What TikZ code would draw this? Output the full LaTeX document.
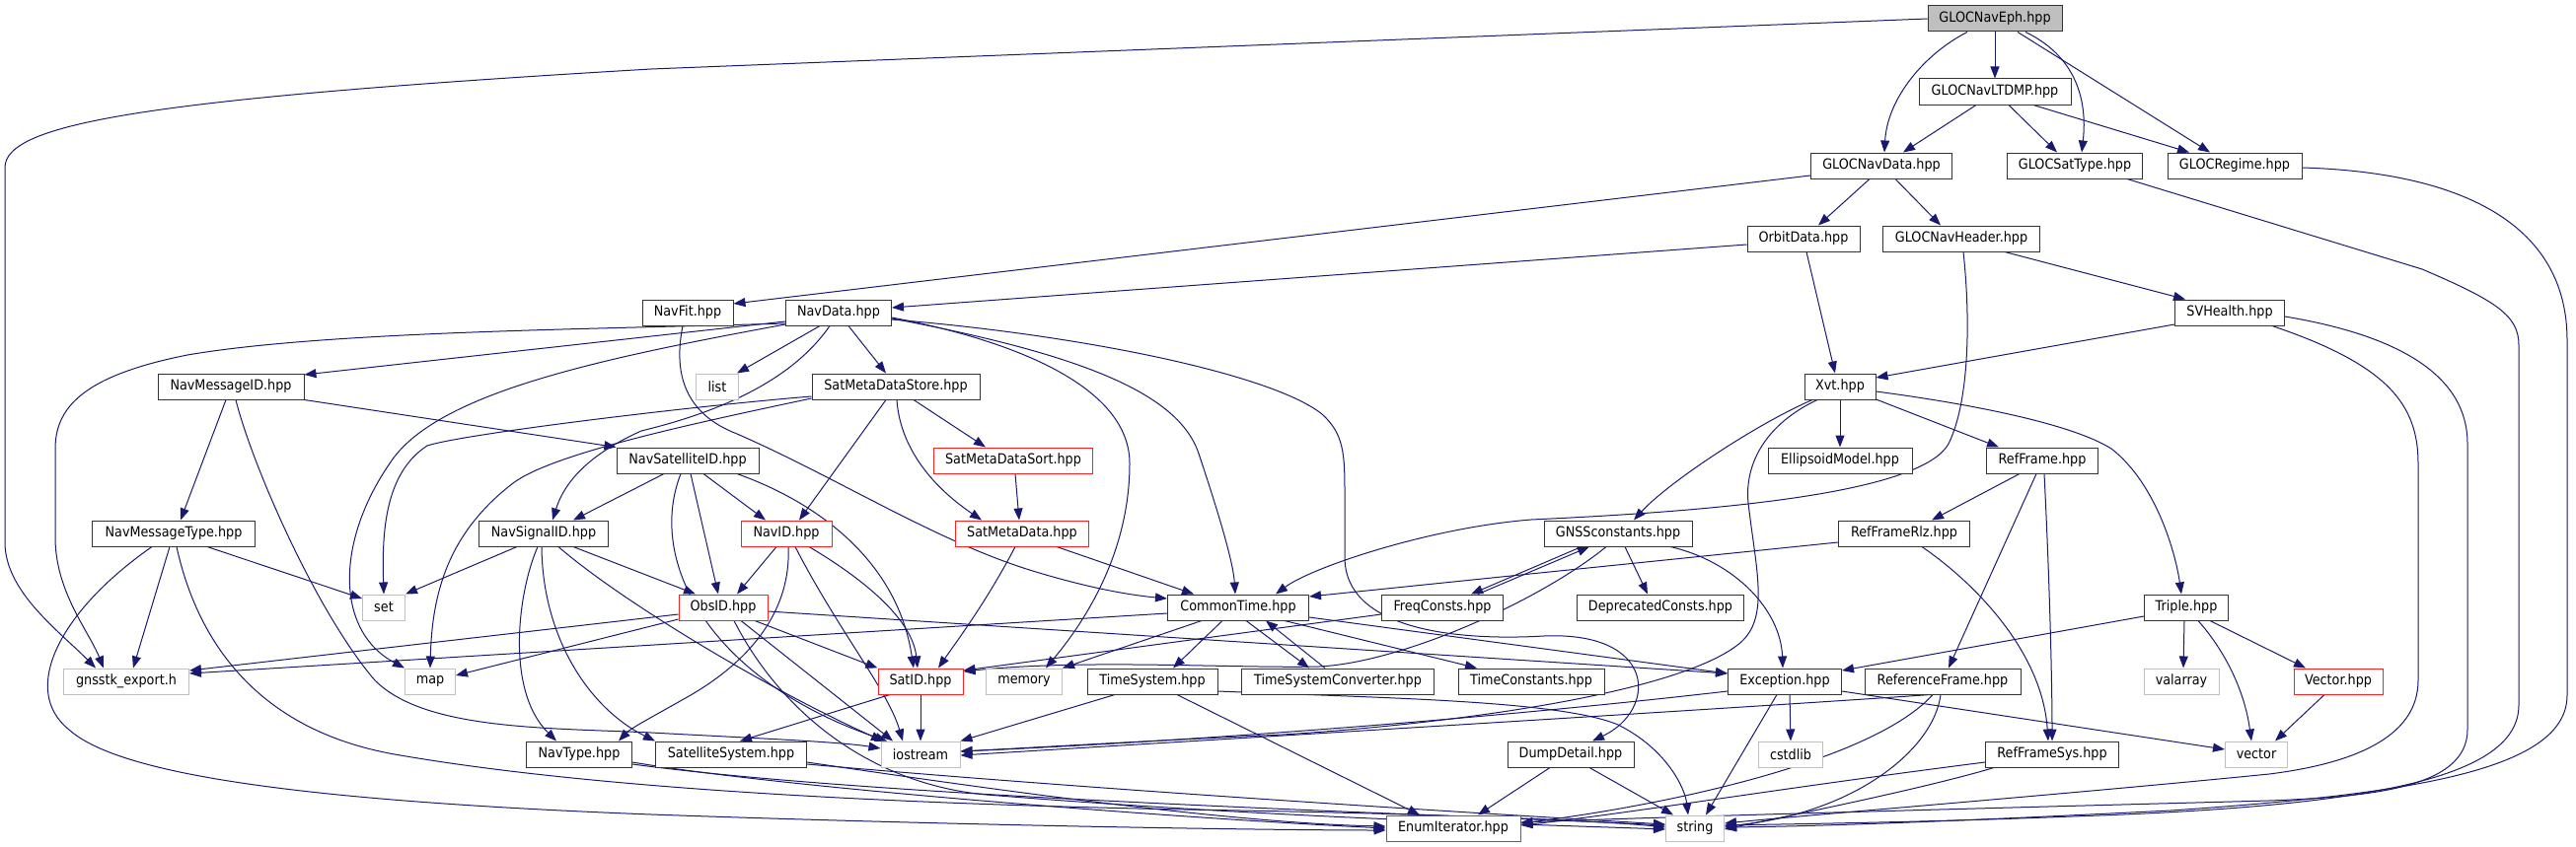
\documentclass[tikz,border=0pt]{standalone}
\usepackage{fontspec}
\setmainfont{DejaVu Sans}[FakeStretch=0.9]
\usetikzlibrary{arrows.meta}
\definecolor{edgecol}{HTML}{191970}
\definecolor{extgray}{HTML}{BFBFBF}
\definecolor{truncred}{HTML}{FF2020}
\definecolor{rootfill}{HTML}{BFBFBF}
\newcommand\nodefont{\fontsize{14.2}{16}\selectfont}
\pgfdeclarelayer{back}
\pgfdeclarelayer{bg}
\pgfsetlayers{back,bg,main}
\tikzset{
  nd/.style={draw=black!80, fill=white, line width=1pt, minimum height=26pt, inner sep=0pt, font=\nodefont, text=black},
  ext/.style={nd, draw=extgray},
  trunc/.style={nd, draw=truncred},
  root/.style={nd, fill=rootfill},
  edge/.style={draw=edgecol, line width=1pt, -{Triangle[length=12pt,width=9pt]}},
}
\begin{document}
\begin{tikzpicture}[x=1pt,y=-1pt]
\begin{pgfonlayer}{back}
\fill[white] (0,0) rectangle (2611,859);
\end{pgfonlayer}
\useasboundingbox (0,0) rectangle (2611,859);
% nodes
\node[root, minimum width=136pt] (eph) at (2022,19) {GLOCNavEph.hpp};
\node[nd, minimum width=154pt] (ltdmp) at (2022,93) {GLOCNavLTDMP.hpp};
\node[nd, minimum width=137pt] (satt) at (2103,168) {GLOCSatType.hpp};
\node[nd, minimum width=136pt] (reg) at (2265,168) {GLOCRegime.hpp};
\node[nd, minimum width=143pt] (gnd) at (1907,168) {GLOCNavData.hpp};
\node[nd, minimum width=114pt] (orb) at (1828,242) {OrbitData.hpp};
\node[nd, minimum width=159pt] (gnh) at (1988,242) {GLOCNavHeader.hpp};
\node[nd, minimum width=111pt] (svh) at (2260,317) {SVHealth.hpp};
\node[nd, minimum width=72pt] (xvt) at (1865,392) {Xvt.hpp};
\node[nd, minimum width=92pt] (navfit) at (697,317) {NavFit.hpp};
\node[nd, minimum width=107pt] (navdata) at (850,317) {NavData.hpp};
\node[ext, minimum width=43pt] (list) at (727,392) {list};
\node[nd, minimum width=170pt] (smds) at (908,392) {SatMetaDataStore.hpp};
\node[nd, minimum width=148pt] (nmid) at (234,392) {NavMessageID.hpp};
\node[nd, minimum width=165pt] (nmt) at (176,541) {NavMessageType.hpp};
\node[ext, minimum width=43pt] (set) at (389,616) {set};
\node[ext, minimum width=127pt] (gexp) at (128,691) {gnsstk\_export.h};
\node[ext, minimum width=51pt] (map) at (436,691) {map};
\node[nd, minimum width=131pt] (nsig) at (551,541) {NavSignalID.hpp};
\node[nd, minimum width=107pt] (navtype) at (587,765) {NavType.hpp};
\node[nd, minimum width=144pt] (nsat) at (697,467) {NavSatelliteID.hpp};
\node[trunc, minimum width=161pt] (smdsort) at (1027,467) {SatMetaDataSort.hpp};
\node[trunc, minimum width=92pt] (navid) at (797,541) {NavID.hpp};
\node[trunc, minimum width=135pt] (smd) at (1036,541) {SatMetaData.hpp};
\node[trunc, minimum width=90pt] (obsid) at (733,616) {ObsID.hpp};
\node[nd, minimum width=143pt] (ct) at (1255,616) {CommonTime.hpp};
\node[trunc, minimum width=86pt] (satid) at (933,691) {SatID.hpp};
\node[ext, minimum width=77pt] (memory) at (1038,691) {memory};
\node[nd, minimum width=132pt] (ts) at (1168,691) {TimeSystem.hpp};
\node[nd, minimum width=195pt] (tsc) at (1356,691) {TimeSystemConverter.hpp};
\node[nd, minimum width=153pt] (ss) at (741,765) {SatelliteSystem.hpp};
\node[ext, minimum width=80pt] (iostream) at (933,765) {iostream};
\node[nd, minimum width=146pt] (ell) at (1865,467) {EllipsoidModel.hpp};
\node[nd, minimum width=150pt] (gnss) at (1640,541) {GNSSconstants.hpp};
\node[nd, minimum width=133pt] (rfrlz) at (1930,541) {RefFrameRlz.hpp};
\node[nd, minimum width=123pt] (freq) at (1462,616) {FreqConsts.hpp};
\node[nd, minimum width=169pt] (depr) at (1683,616) {DeprecatedConsts.hpp};
\node[nd, minimum width=148pt] (tconst) at (1552,691) {TimeConstants.hpp};
\node[nd, minimum width=115pt] (exc) at (1809,691) {Exception.hpp};
\node[nd, minimum width=158pt] (refframe) at (1969,691) {ReferenceFrame.hpp};
\node[nd, minimum width=128pt] (dump) at (1592,765) {DumpDetail.hpp};
\node[ext, minimum width=65pt] (cstdlib) at (1815,765) {cstdlib};
\node[trunc, minimum width=136pt] (enumit) at (1473,840) {EnumIterator.hpp};
\node[ext, minimum width=59pt] (string) at (1718,840) {string};
\node[nd, minimum width=113pt] (rf) at (2070,467) {RefFrame.hpp};
\node[nd, minimum width=85pt] (triple) at (2216,616) {Triple.hpp};
\node[ext, minimum width=76pt] (valarray) at (2211,691) {valarray};
\node[trunc, minimum width=90pt] (vectorh) at (2370,691) {Vector.hpp};
\node[ext, minimum width=63pt] (vector) at (2287,765) {vector};
\node[nd, minimum width=135pt] (rfsys) at (2080,765) {RefFrameSys.hpp};

\begin{pgfonlayer}{bg}
% GLOCNavEph
\draw[edge] (eph.west) -- (660,70) .. controls (150,100) and (5,125) .. (5,170) -- (5,550) .. controls (5,600) and (60,640) .. ([xshift=-31pt]gexp.north);
\draw[edge] ([xshift=-28pt]eph.south) .. controls (1950,55) and (1913,100) .. ([xshift=3pt]gnd.north);
\draw[edge] (eph) -- (ltdmp);
\draw[edge] ([xshift=31pt]eph.south) .. controls (2110,60) and (2115,110) .. ([xshift=7pt]satt.north);
\draw[edge] ([xshift=23pt]eph.south) -- ([xshift=-25pt]reg.north);
% GLOCNavLTDMP
\draw[edge] ([xshift=-19pt]ltdmp.south) -- ([xshift=22pt]gnd.north);
\draw[edge] ([xshift=14pt]ltdmp.south) -- ([xshift=-18pt]satt.north);
\draw[edge] ([xshift=39pt]ltdmp.south) -- ([xshift=-46pt]reg.north);
% GLOCNavData
\draw[edge] ([yshift=-10pt]gnd.west) -- ([yshift=9pt]navfit.east);
\draw[edge] ([xshift=-12pt]gnd.south) -- ([xshift=15pt]orb.north);
\draw[edge] ([xshift=14pt]gnd.south) -- ([xshift=-21pt]gnh.north);
% GLOCSatType, GLOCRegime
\draw[edge] ([xshift=53pt]satt.south) -- (2455,273) .. controls (2530,305) and (2553,320) .. (2553,350) -- (2553,715) .. controls (2553,790) and (2400,818) .. (2100,828) .. controls (1950,834) and (1800,836) .. ([yshift=3pt]string.east);
\draw[edge] ([yshift=-2pt]reg.east) .. controls (2500,175) and (2602,230) .. (2602,345) -- (2602,705) .. controls (2602,780) and (2450,805) .. (2200,822) .. controls (2000,832) and (1850,838) .. ([yshift=1pt]string.east);
% OrbitData
\draw[edge] ([yshift=-6pt]orb.west) -- ([yshift=5pt]navdata.east);
\draw[edge] ([xshift=3pt]orb.south) -- ([xshift=-5pt]xvt.north);
% GLOCNavHeader
\draw[edge] ([xshift=44pt]gnh.south) -- ([xshift=-45pt]svh.north);
\draw[edge] ([xshift=2pt]gnh.south) .. controls (1998,330) and (1995,410) .. (1975,450) .. controls (1945,505) and (1700,520) .. (1552,527) .. controls (1450,535) and (1330,575) .. ([xshift=38pt]ct.north);
% SVHealth
\draw[edge] ([yshift=-12pt]svh.west) -- ([yshift=9pt]xvt.east);
\draw[edge] ([xshift=43pt]svh.south) .. controls (2420,370) and (2451,410) .. (2451,470) -- (2451,690) .. controls (2451,750) and (2380,775) .. (2300,785) .. controls (2100,805) and (1850,825) .. ([yshift=5pt]string.east);
\draw[edge] ([yshift=-4pt]svh.east) .. controls (2430,340) and (2501,380) .. (2501,450) -- (2501,740) .. controls (2501,800) and (2400,808) .. (2300,812) .. controls (2000,820) and (1700,828) .. ([yshift=6pt]enumit.east);
% Xvt
\draw[edge] ([xshift=-28pt]xvt.south) .. controls (1780,430) and (1690,490) .. ([xshift=16pt]gnss.north);
\draw[edge] ([xshift=-23pt]xvt.south) .. controls (1790,430) and (1768,470) .. (1772,510) .. controls (1780,580) and (1795,630) .. (1760,655) .. controls (1700,700) and (1500,732) .. (1300,745) .. controls (1150,752) and (1050,758) .. ([yshift=3pt]iostream.east);
\draw[edge] (xvt) -- (ell);
\draw[edge] ([yshift=-13pt]xvt.east) -- ([xshift=-44pt]rf.north);
\draw[edge] ([yshift=-5pt]xvt.east) .. controls (2000,410) and (2100,430) .. (2140,455) .. controls (2185,490) and (2205,560) .. ([xshift=-5pt]triple.north);
% NavFit
\draw[edge] ([xshift=-5pt]navfit.south) .. controls (682,380) and (695,420) .. (747,440) .. controls (850,485) and (950,550) .. (1050,580) .. controls (1100,595) and (1140,603) .. ([yshift=9pt]ct.west);
% NavData
\draw[edge] ([yshift=-9pt]navdata.west) -- ([yshift=12pt]nmid.east);
\draw[edge] ([yshift=-11pt]navdata.west) .. controls (600,334) and (330,336) .. (190,360) .. controls (90,380) and (56,410) .. (56,455) -- (56,545) .. controls (56,600) and (90,640) .. ([xshift=-23pt]gexp.north);
\draw[edge] ([xshift=-19pt]navdata.south) -- ([xshift=20pt]list.north);
\draw[edge] ([xshift=10pt]navdata.south) -- ([xshift=-10pt]smds.north);
\draw[edge] ([xshift=-9pt]navdata.south) .. controls (800,390) and (720,420) .. (650,437) .. controls (610,455) and (575,480) .. ([xshift=9pt]nsig.north);
\draw[edge] ([yshift=-12pt]navdata.west) .. controls (600,365) and (440,400) .. (395,470) .. controls (340,550) and (340,640) .. (map.north west);
\draw[edge] ([yshift=-5pt]navdata.east) .. controls (1050,350) and (1145,400) .. (1145,470) .. controls (1145,560) and (1100,630) .. ([xshift=22pt]memory.north);
\draw[edge] ([yshift=-6pt]navdata.east) .. controls (1100,360) and (1195,400) .. (1215,460) .. controls (1235,520) and (1250,570) .. ([xshift=-3pt]ct.north);
\draw[edge] ([yshift=-7pt]navdata.east) .. controls (1100,340) and (1290,380) .. (1340,420) .. controls (1362,440) and (1363,460) .. (1363,500) -- (1363,565) .. controls (1363,640) and (1480,650) .. (1565,645) .. controls (1680,640) and (1680,720) .. ([xshift=22pt]dump.north);
% SatMetaDataStore
\draw[edge] ([yshift=-10pt]smds.west) .. controls (700,412) and (470,440) .. (433,452) .. controls (390,480) and (387,540) .. (set.north);
\draw[edge] ([yshift=-12pt]smds.west) .. controls (700,430) and (560,460) .. (520,490) .. controls (455,540) and (438,600) .. (map.north);
\draw[edge] ([xshift=-10pt]smds.south) -- ([xshift=13pt]navid.north);
\draw[edge] ([xshift=1pt]smds.south) .. controls (912,450) and (940,490) .. ([xshift=-41pt]smd.north);
\draw[edge] ([xshift=18pt]smds.south) -- ([xshift=-28pt]smdsort.north);
\draw[edge] ([xshift=2pt]smdsort.south) -- ([xshift=-3pt]smd.north);
% SatMetaData
\draw[edge] ([xshift=-7pt]smd.south) .. controls (1000,610) and (970,650) .. ([xshift=18pt]satid.north);
\draw[edge] ([xshift=35pt]smd.south) -- ([xshift=-45pt]ct.north);
% NavMessageID
\draw[edge] ([xshift=-5pt]nmid.south) -- ([xshift=7pt]nmt.north);
\draw[edge] ([xshift=5pt]nmid.south) .. controls (255,470) and (320,620) .. (380,690) .. controls (430,740) and (550,738) .. (660,743) .. controls (750,748) and (850,752) .. ([yshift=6pt]iostream.west);
\draw[edge] (nmid.south east) -- (nsat.north west);
% NavMessageType
\draw[edge] ([xshift=34pt]nmt.south) -- ([yshift=9pt]set.west);
\draw[edge] ([xshift=-4pt]nmt.south) -- ([xshift=7pt]gexp.north);
\draw[edge] ([xshift=-22pt]nmt.south) .. controls (60,620) and (20,700) .. (70,740) .. controls (120,785) and (300,812) .. (660,826) .. controls (1000,838) and (1300,842) .. ([yshift=-2pt]enumit.west);
\draw[edge] ([xshift=3pt]nmt.south) .. controls (200,650) and (260,740) .. (400,765) .. controls (600,800) and (900,815) .. (1200,821) .. controls (1450,825) and (1620,832) .. ([yshift=1pt]string.west);
% NavSignalID
\draw[edge] ([xshift=-27pt]nsig.south) -- (set.north east);
\draw[edge] ([xshift=-6pt]nsig.south) .. controls (525,600) and (512,700) .. ([xshift=-23pt]navtype.north);
\draw[edge] ([xshift=-2pt]nsig.south) .. controls (550,650) and (600,720) .. (ss.north west);
\draw[edge] ([xshift=30pt]nsig.south) -- ([xshift=-28pt]obsid.north);
\draw[edge] ([xshift=15pt]nsig.south) .. controls (630,610) and (780,700) .. ([xshift=-38pt]iostream.north);
% NavSatelliteID
\draw[edge] ([xshift=-24pt]nsat.south) -- ([xshift=30pt]nsig.north);
\draw[edge] ([xshift=-7pt]nsat.south) .. controls (655,570) and (720,690) .. ([xshift=-34pt]iostream.north);
\draw[edge] ([xshift=3pt]nsat.south) -- ([xshift=-5pt]obsid.north);
\draw[edge] ([xshift=16pt]nsat.south) -- ([xshift=-21pt]navid.north);
\draw[edge] ([xshift=50pt]nsat.south) .. controls (830,510) and (910,570) .. ([xshift=-7pt]satid.north);
% NavID
\draw[edge] ([xshift=-10pt]navid.south) -- ([xshift=14pt]obsid.north);
\draw[edge] ([xshift=2pt]navid.south) .. controls (802,620) and (760,670) .. (700,705) .. controls (665,725) and (640,738) .. ([xshift=40pt]navtype.north);
\draw[edge] ([xshift=9pt]navid.south) .. controls (850,640) and (900,700) .. ([xshift=-18pt]iostream.north);
\draw[edge] ([xshift=23pt]navid.south) .. controls (880,590) and (925,630) .. ([xshift=-3pt]satid.north);
% ObsID
\draw[edge] ([yshift=-7pt]obsid.west) -- ([yshift=11pt]gexp.east);
\draw[edge] ([yshift=-12pt]obsid.west) -- ([yshift=6pt]map.east);
\draw[edge] ([xshift=32pt]obsid.south) -- (satid.north west);
\draw[edge] ([xshift=18pt]obsid.south) -- ([xshift=-28pt]iostream.north);
\draw[edge] ([xshift=11pt]obsid.south) .. controls (790,720) and (880,795) .. (1000,806) .. controls (1300,830) and (1550,836) .. ([yshift=-1pt]string.west);
\draw[edge] ([yshift=-4pt]obsid.east) -- ([yshift=8pt]exc.west);
% SatID
\draw[edge] ([xshift=-31pt]satid.south) -- ([xshift=9pt]ss.north);
\draw[edge] (satid) -- (iostream);
% CommonTime
\draw[edge] ([yshift=-6pt]ct.west) -- ([yshift=8pt]gexp.east);
\draw[edge] ([xshift=-37pt]ct.south) -- (memory.north east);
\draw[edge] ([xshift=-16pt]ct.south) -- ([xshift=21pt]ts.north);
\draw[edge] ([xshift=8pt]ct.south) -- ([xshift=-29pt]tsc.north);
\draw[edge] ([xshift=-13pt]tsc.north) -- ([xshift=28pt]ct.south);
\draw[edge] ([xshift=47pt]ct.south) -- ([xshift=-55pt]tconst.north);
\draw[edge] ([yshift=-10pt]ct.east) -- ([yshift=8pt]exc.west);
% TimeSystem
\draw[edge] ([xshift=-38pt]ts.south) -- (iostream.north east);
\draw[edge] ([xshift=25pt]ts.south) -- ([xshift=-34pt]enumit.north);
\draw[edge] ([yshift=-10pt]ts.east) .. controls (1400,708) and (1580,710) .. (1640,735) .. controls (1690,760) and (1708,800) .. ([xshift=-7pt]string.north);
% GNSSconstants, FreqConsts
\draw[edge] ([xshift=-37pt]gnss.south) -- ([xshift=29pt]freq.north);
\draw[edge] ([xshift=36pt]freq.north) -- ([xshift=-29pt]gnss.south);
\draw[edge] ([xshift=7pt]gnss.south) -- ([xshift=-13pt]depr.north);
\draw[edge] ([xshift=53pt]gnss.south) .. controls (1760,570) and (1805,620) .. ([xshift=-2pt]exc.north);
\draw[edge] ([xshift=-12pt]gnss.south) .. controls (1560,610) and (1420,672) .. (1337,676) .. controls (1250,678) and (1100,668) .. ([yshift=10pt]satid.east);
\draw[edge] ([yshift=-7pt]freq.west) -- ([yshift=11pt]satid.east);
% RefFrameRlz, RefFrame
\draw[edge] ([yshift=-9pt]rfrlz.west) -- ([yshift=11pt]ct.east);
\draw[edge] ([xshift=18pt]rfrlz.south) .. controls (2000,590) and (2070,660) .. ([xshift=-4pt]rfsys.north);
\draw[edge] ([xshift=-23pt]rf.south) -- ([xshift=28pt]rfrlz.north);
\draw[edge] ([xshift=-6pt]rf.south) -- ([xshift=6pt]refframe.north);
\draw[edge] ([xshift=2pt]rf.south) .. controls (2078,600) and (2080,700) .. (rfsys.north);
% Triple, Vector
\draw[edge] ([yshift=-9pt]triple.west) -- ([yshift=11pt]exc.east);
\draw[edge] ([xshift=-2pt]triple.south) -- ([xshift=2pt]valarray.north);
\draw[edge] ([xshift=12pt]triple.south) .. controls (2255,660) and (2275,700) .. ([xshift=-5pt]vector.north);
\draw[edge] ([xshift=24pt]triple.south) -- ([xshift=-33pt]vectorh.north);
\draw[edge] ([xshift=-14pt]vectorh.south) -- ([xshift=19pt]vector.north);
% Exception
\draw[edge] ([yshift=-10pt]exc.west) .. controls (1500,730) and (1200,752) .. ([yshift=3pt]iostream.east);
\draw[edge] ([xshift=5pt]exc.south) -- (cstdlib.north);
\draw[edge] ([xshift=-8pt]exc.south) -- ([xshift=11pt]string.north);
\draw[edge] ([yshift=-10pt]exc.east) -- ([yshift=5pt]vector.west);
% ReferenceFrame, RefFrameSys
\draw[edge] ([xshift=-12pt]refframe.south) .. controls (1700,722) and (1200,752) .. ([yshift=-1pt]iostream.east);
\draw[edge] ([xshift=-10pt]refframe.south) .. controls (1900,770) and (1700,815) .. ([yshift=5pt]enumit.east);
\draw[edge] ([xshift=-2pt]refframe.south) .. controls (1960,760) and (1880,825) .. ([yshift=2pt]string.east);
\draw[edge] ([yshift=-8pt]rfsys.west) .. controls (1800,800) and (1650,825) .. ([yshift=3pt]enumit.east);
\draw[edge] ([xshift=-59pt]rfsys.south) .. controls (1950,800) and (1800,830) .. ([yshift=-1pt]string.east);
% DumpDetail
\draw[edge] ([xshift=-21pt]dump.south) -- ([xshift=25pt]enumit.north);
\draw[edge] ([xshift=19pt]dump.south) -- ([xshift=-22pt]string.north);
% NavType, SatelliteSystem
\draw[edge] ([yshift=-8pt]navtype.east) .. controls (800,800) and (1200,830) .. (enumit.west);
\draw[edge] ([yshift=-10pt]navtype.east) .. controls (900,810) and (1450,825) .. ([yshift=3pt]string.west);
\draw[edge] ([yshift=-8pt]ss.east) .. controls (1000,800) and (1250,835) .. ([yshift=2pt]enumit.west);
\draw[edge] ([yshift=-10pt]ss.east) .. controls (1100,800) and (1450,822) .. ([yshift=4pt]string.west);
\end{pgfonlayer}
\end{tikzpicture}
\end{document}
